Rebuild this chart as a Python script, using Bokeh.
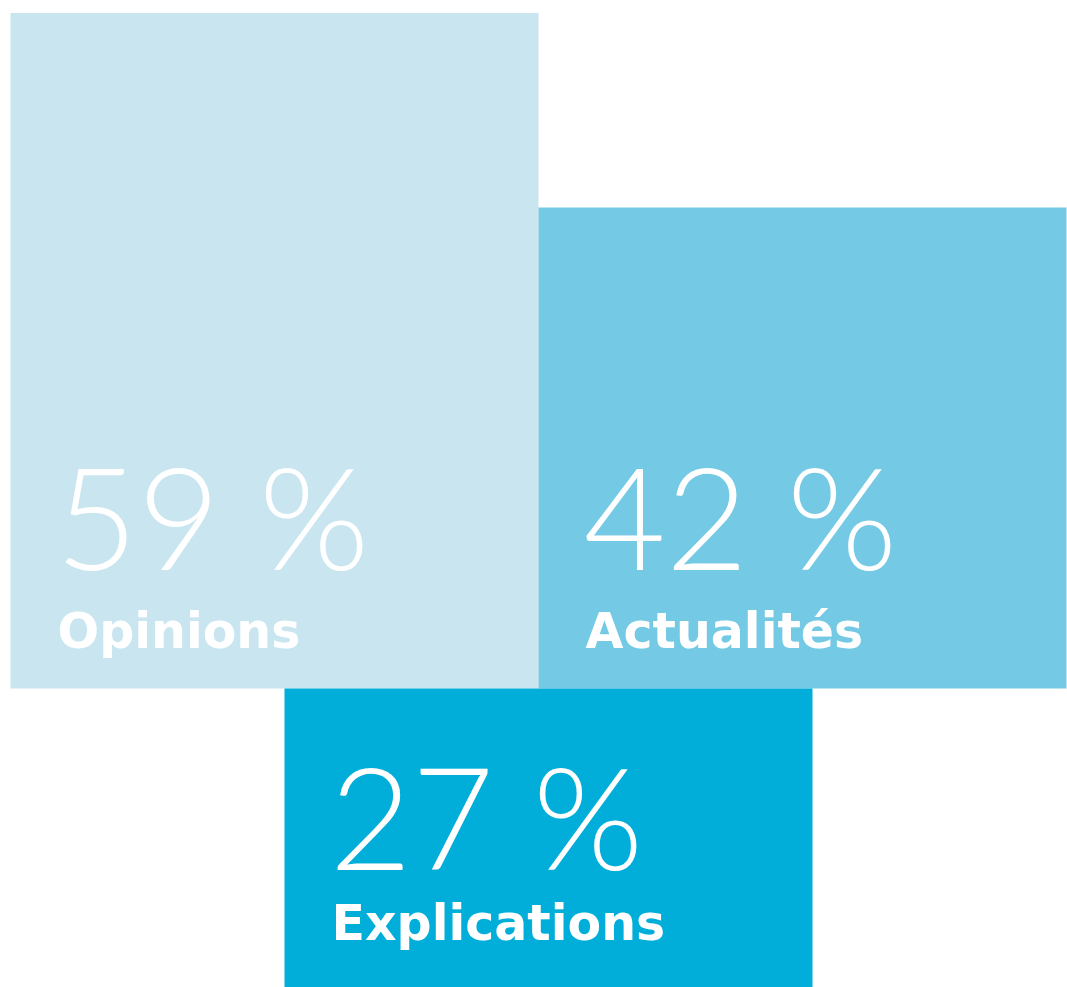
from bokeh.plotting import figure
from bokeh.models import Range1d, ColumnDataSource
from bokeh.core.properties import value
from bokeh.embed import file_html
from bokeh.resources import INLINE

# --- data ---
categories = ["Opinions", "Actualités", "Explications"]
percents = [59, 42, 27]
value_labels = ["59 %", "42 %", "27 %"]
colors = ["#c9e6f0", "#74c9e4", "#00aed9"]

W, H = 1067, 987
PX_PER_UNIT = 11.45
BASE_PX = 688  # screen row of the shared baseline (from top)

p = figure(width=W, height=H, output_backend="svg", toolbar_location=None,
           x_range=Range1d(0, W),
           y_range=Range1d(-(H - BASE_PX) / PX_PER_UNIT, BASE_PX / PX_PER_UNIT),
           min_border=0, background_fill_color="white", border_fill_color="white")
p.axis.visible = False
p.grid.visible = False
p.outline_line_color = None

box_w = 528
lefts = [10, 538, 284]
# top two boxes grow upward from the baseline, the third hangs downward
tops = [percents[0], percents[1], 0]
bottoms = [0, 0, -percents[2]]

src = ColumnDataSource(dict(
    left=lefts, right=[l + box_w for l in lefts], top=tops, bottom=bottoms,
    color=colors, cat=categories, val=value_labels,
))
p.quad(left="left", right="right", top="top", bottom="bottom", source=src,
       fill_color="color", line_color=None)

vx = [l + 45 for l in lefts]
lx = [l + 47 for l in lefts]
VFONT = value("Lato Light")
LFONT = value("DejaVu Sans")

p.text(x=vx[:2], y=[0, 0], text=value_labels[:2], text_font=VFONT,
       text_font_size="142px", text_color="white", text_baseline="alphabetic",
       y_offset=-174)
p.text(x=lx[:2], y=[0, 0], text=categories[:2], text_font=LFONT,
       text_font_style="bold", text_font_size="49px", text_color="white",
       text_baseline="alphabetic", y_offset=-57)

p.text(x=[vx[2]], y=[0], text=[value_labels[2]], text_font=VFONT,
       text_font_size="142px", text_color="white", text_baseline="alphabetic",
       y_offset=126)
p.text(x=[lx[2]], y=[0], text=[categories[2]], text_font=LFONT,
       text_font_style="bold", text_font_size="49px", text_color="white",
       text_baseline="alphabetic", y_offset=235)

open("out.html", "w").write(file_html(p, INLINE))
